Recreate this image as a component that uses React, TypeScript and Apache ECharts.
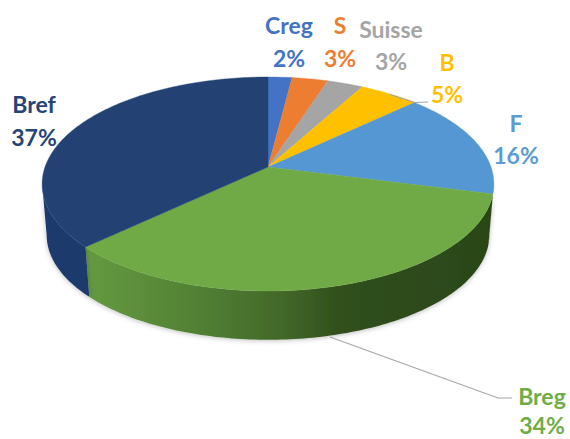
import React, { useEffect, useRef } from "react";
import * as echarts from "echarts";

const CATEGORIES = ["Creg", "S", "Suisse", "B", "F", "Breg", "Bref"];
const SHARES = [2, 3, 3, 5, 16, 34, 37];
const PERCENT_LABELS = ["2%", "3%", "3%", "5%", "16%", "34%", "37%"];

const TOP_COLORS = ["#4472C4", "#ED7D31", "#A5A5A5", "#FFC000", "#5597D3", "#6FAA46", "#234173"];
const TEXT_COLORS = ["#4472C4", "#ED7D31", "#A5A5A5", "#FFC000", "#5B9BD5", "#70AD47", "#264478"];
const WALL_COLORS = ["#2f5597", "#ae5a21", "#7b7b7b", "#bf9000", "#2b4519", "", "#1e3a6c"];
const BREG_WALL_STOPS = [
  { offset: 0, color: "#659a40" },
  { offset: 0.3, color: "#507e33" },
  { offset: 0.5, color: "#416528" },
  { offset: 0.62, color: "#30501c" },
  { offset: 1, color: "#2b4519" },
];

// [centre x, name y, value y]
const LABEL_LAYOUT = [
  [289, 25, 58],
  [340, 25, 58],
  [391, 29, 61],
  [447, 62, 94],
  [516, 123, 155],
  [542, 396, 425],
  [34, 104, 137],
];
const LEADER_LINES = [
  [[390, 94.5], [415, 102.5], [428, 102]],
  [[330, 337], [498, 398], [512, 398]],
];

const TOP = { A: 223, B: 104.3, cy: 167 };
const BOTTOM = { A: 218.5, B: 102, cy: 218.5 };
const CX = 268;
const PERSPECTIVE = 0.159;
// The side wall is only seen between the two points where the rim turns back.
const WALL_START = Math.PI - Math.acos(PERSPECTIVE);
const WALL_END = Math.PI + Math.acos(PERSPECTIVE);

function project(angle: number, g: { A: number; B: number; cy: number }) {
  const u = Math.sin(angle);
  const v = Math.cos(angle);
  const w = 1 + PERSPECTIVE * v;
  return [CX + (g.A * u) / w, g.cy - (g.B * v) / w];
}

function sliceAngles(index: number) {
  const total = SHARES.reduce((a, b) => a + b, 0);
  const before = SHARES.slice(0, index).reduce((a, b) => a + b, 0);
  return [(before / total) * Math.PI * 2, ((before + SHARES[index]) / total) * Math.PI * 2];
}

function arc(a0: number, a1: number, g: { A: number; B: number; cy: number }) {
  const n = Math.max(2, Math.ceil(((a1 - a0) * 180) / Math.PI));
  const pts: number[][] = [];
  for (let i = 0; i <= n; i++) pts.push(project(a0 + ((a1 - a0) * i) / n, g));
  return pts;
}

const LABEL_FONT = 'bold 23px Lato, "Open Sans", sans-serif';

export default function App() {
  const ref = useRef<HTMLDivElement>(null);
  useEffect(() => {
    document.body.style.margin = "0";
    const chart = echarts.init(ref.current!, undefined, { renderer: "svg" });
    chart.setOption({
      animation: false,
      backgroundColor: "#ffffff",
      series: [
        {
          type: "custom",
          coordinateSystem: "none",
          silent: true,
          data: SHARES,
          z: 1,
          renderItem: (params: any) => {
            const i = params.dataIndex;
            const [s0, s1] = sliceAngles(i);
            const a0 = Math.max(s0, WALL_START);
            const a1 = Math.min(s1, WALL_END);
            if (a1 <= a0) return null;
            const points = [...arc(a0, a1, TOP), ...arc(a0, a1, BOTTOM).reverse()];
            const fill =
              CATEGORIES[i] === "Breg"
                ? { type: "linear", x: 0, y: 0, x2: 1, y2: 0, colorStops: BREG_WALL_STOPS }
                : WALL_COLORS[i];
            return {
              type: "polygon",
              shape: { points },
              style: {
                fill,
                shadowBlur: 5,
                shadowColor: "rgba(0,0,0,0.25)",
                shadowOffsetY: 1,
              },
            };
          },
        },
        {
          type: "custom",
          coordinateSystem: "none",
          silent: true,
          data: SHARES,
          z: 2,
          renderItem: (params: any) => {
            const i = params.dataIndex;
            const [a0, a1] = sliceAngles(i);
            const points = [[CX, TOP.cy], ...arc(a0, a1, TOP)];
            return {
              type: "polygon",
              shape: { points },
              style: { fill: TOP_COLORS[i], stroke: TOP_COLORS[i], lineWidth: 0.4 },
            };
          },
        },
        {
          type: "custom",
          coordinateSystem: "none",
          silent: true,
          data: CATEGORIES,
          z: 3,
          renderItem: (params: any) => {
            const i = params.dataIndex;
            const [x, y1, y2] = LABEL_LAYOUT[i];
            const common = {
              x,
              fill: TEXT_COLORS[i],
              font: LABEL_FONT,
              textAlign: "center",
              textVerticalAlign: "middle",
            };
            return {
              type: "group",
              children: [
                { type: "text", style: { ...common, text: CATEGORIES[i], y: y1 } },
                { type: "text", style: { ...common, text: PERCENT_LABELS[i], y: y2 } },
              ],
            };
          },
        },
        {
          type: "custom",
          coordinateSystem: "none",
          silent: true,
          data: LEADER_LINES.map((_, i) => i),
          z: 3,
          renderItem: (params: any) => ({
            type: "polyline",
            shape: { points: LEADER_LINES[params.dataIndex] },
            style: { fill: "none", stroke: "#a6a6a6", lineWidth: 1.2 },
          }),
        },
      ],
    });
    return () => chart.dispose();
  }, []);
  return <div ref={ref} style={{ position: "absolute", left: 0, top: 0, width: 570, height: 439 }} />;
}
